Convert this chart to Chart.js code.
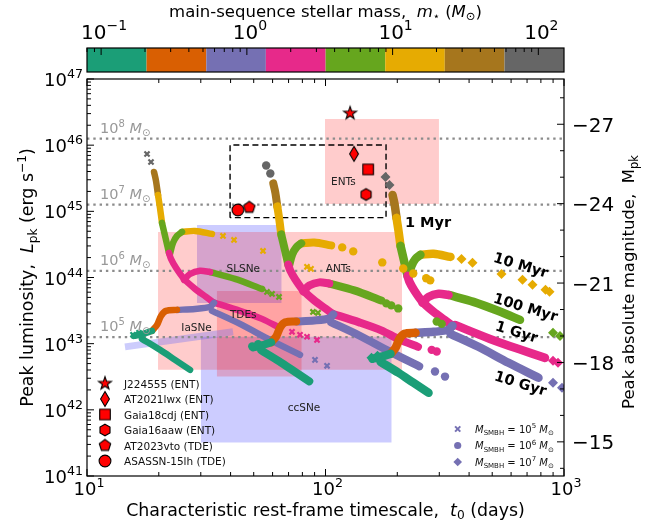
<!DOCTYPE html>
<html>
<head>
<meta charset="utf-8">
<title>TDE luminosity vs timescale</title>
<script src="https://cdn.jsdelivr.net/npm/chart.js@4.4.1/dist/chart.umd.min.js"></script>
<style>
html,body{margin:0;padding:0;background:#ffffff;overflow:hidden;}
#wrap{position:relative;width:659px;height:529px;}
canvas{display:block;}
</style>
</head>
<body>
<div id="wrap"><canvas id="chart" width="659" height="529"></canvas></div>
<script>
// ---------------- data ----------------
const MASS_COLORS = ['#1b9e77','#d95f02','#7570b3','#e7298a','#66a61e','#e6ab02','#a6761d','#666666'];
const MASS_BOUNDS = [0.08,0.205,0.527,1.35,3.47,8.9,22.8,58.6,150];
const CB_TICKS = [0.1,1,10,100];
const X_TICKS = [10,100,1000];
const Y_TICKS = [1e41,1e42,1e43,1e44,1e45,1e46,1e47];
const MAG_TICKS = [-27,-24,-21,-18,-15];

const EDD_EXP = [5,6,7,8];
const EDD_LUM = [1.26e43,1.26e44,1.26e45,1.26e46];
const EDD_LABEL_T = 11.34;

const EVENT_NAMES = ['J224555 (ENT)','AT2021lwx (ENT)','Gaia18cdj (ENT)','Gaia16aaw (ENT)','AT2023vto (TDE)','ASASSN-15lh (TDE)'];
const EVENT_T = [126.8,131.7,151,148,47.9,42.9];
const EVENT_L = [3.03e46,7.4e45,4.3e45,1.8e45,1.15e45,1.05e45];
const EVENT_MARKERS = ['star','thin_diamond','square','hexagon','pentagon','circle'];

const BOX_KIND = ['red','red','blue','red','blue'];
const BOX_T = [[99.5,299],[19.85,209.4],[28.9,65.5],[35.0,79.5],[29.97,189.5]];
const BOX_L = [[1.29e45,2.49e46],[4.02e42,4.89e44],[4.13e43,6.23e44],[3.18e42,6.27e43],[3.21e41,1.27e43]];
const DASH_T = [39.8,179.4];
const DASH_L = [8.03e44,1.007e46];
const IA_BAND = [[14.43,8.95e42],[40.95,1.51e43]];

const LABEL_NAMES = ['ENTs','SLSNe','ANTs','TDEs','IaSNe','ccSNe'];
const LABEL_T = [118.8,45.2,113.2,45.2,28.8,81.3];
const LABEL_L = [2.91e45,1.38e44,1.38e44,2.82e43,1.78e43,1.12e42];

const AGE_LABELS = ['1 Myr','10 Myr','100 Myr','1 Gyr','10 Gyr'];
const AGE_T = [269.1,660,691,633.5,658];
const AGE_L = [6.99e44,1.55e44,3.56e43,1.52e43,2.53e42];
const AGE_ROT = [0,17,17,17,17];

// tracks: [t0 (days), L_pk (erg/s), mass-bin index]
// M_SMBH = 1e5
const BH5_1MYR = [[15.74,1.31e43,0],[17.17,1.41e43,0],[18.73,1.56e43,0],
 [19.66,1.92e43,1],[20.43,2.63e43,1],[21.44,3.13e43,1],[23.84,3.24e43,1],
 [28.38,3.35e43,2],[32.80,3.60e43,2],[34.08,4.13e43,2],
 [31.55,5.09e43,3],[28.38,6.73e43,3],[25.51,9.52e43,3],[23.61,1.40e44,3],[22.50,1.91e44,3],[22.07,2.35e44,3],
 [21.44,3.70e44,4],[20.63,6.68e44,4],
 [20.23,1.13e45,5],[19.85,1.77e45,5],
 [19.47,2.88e45,6],[19.10,3.94e45,6]];
const BH5_10MYR = [[22.28,2.27e44,4],[22.94,3.33e44,4],[23.84,4.25e44,4],[25.02,4.89e44,4],[28.38,5.06e44,5],[33.43,4.56e44,5]];
const BH5_100MYR = [[25.51,9.20e43,3],[27.04,1.13e44,3],[29.77,1.26e44,3],[32.80,1.21e44,3],[41.74,9.52e43,4],[54.17,6.73e43,4]];
const BH5_1GYR = [[33.43,4.28e43,3],[43.79,3.13e43,3],[54.17,2.37e43,3],[64.45,1.73e43,3]];
const BH5_10GYR = [[33.43,3.13e43,2],[43.79,1.99e43,2],[58.52,1.14e43,2],[78.18,6.77e42,2]];
const BH5_LOW = [[17.01,1.18e43,0],[20.23,8.06e42,0],[23.39,5.69e42,0],[27.04,4.02e42,0]];
const BH5_DOTS = [[17.85,7.36e45,7],[18.55,5.57e45,7],
 [37.17,4.25e44,5],[41.34,3.70e44,5],[54.70,2.52e44,5],[83.63,1.45e44,5],[86.93,1.35e44,5],
 [56.85,6.06e43,4],[59.68,5.65e43,4],[63.83,5.09e43,4],[88.62,3.02e43,4],[93.02,2.92e43,4],
 [72.36,1.51e43,3],[78.18,1.36e43,3],[83.63,1.27e43,3],[92.12,1.14e43,3],
 [90.36,5.69e42,2],[101.5,4.62e42,2],
 [15.59,1.36e43,0],[16.52,1.46e43,0]];

// M_SMBH = 1e6
const BH6_1MYR = [[49.8,8.78e42,0],[54.3,9.45e42,0],[59.2,1.05e43,0],
 [62.2,1.29e43,1],[64.6,1.76e43,1],[67.8,2.10e43,1],[75.4,2.17e43,1],
 [89.7,2.24e43,2],[103.7,2.41e43,2],[107.8,2.77e43,2],
 [99.8,3.41e43,3],[89.7,4.51e43,3],[80.7,6.38e43,3],[74.7,9.38e43,3],[71.1,1.28e44,3],[69.8,1.57e44,3],
 [67.8,2.48e44,4],[65.2,4.48e44,4],
 [64.0,7.57e44,5],[62.8,1.19e45,5],
 [61.6,1.93e45,6],[60.4,2.64e45,6]];
const BH6_10MYR = [[70.4,1.52e44,4],[72.5,2.23e44,4],[75.4,2.85e44,4],[79.1,3.28e44,4],[89.7,3.39e44,5],[105.7,3.06e44,5]];
const BH6_100MYR = [[80.7,6.16e43,3],[85.5,7.57e43,3],[94.1,8.44e43,3],[103.7,8.11e43,3],[132.0,6.38e43,4],[171.3,4.51e43,4]];
const BH6_1GYR = [[105.7,2.87e43,3],[138.5,2.10e43,3],[171.3,1.59e43,3],[203.8,1.16e43,3],[244.3,8.95e42,3]];
const BH6_10GYR = [[105.7,2.10e43,2],[138.5,1.33e43,2],[185.0,7.64e42,2],[247.2,4.54e42,2]];
const BH6_LOW = [[53.8,7.91e42,0],[64.0,5.40e42,0],[74.0,3.81e42,0],[85.5,2.69e42,0]];
const BH6_DOTS = [[56.4,4.93e45,7],[58.7,3.73e45,7],
 [117.5,2.85e44,5],[130.7,2.48e44,5],[173.0,1.69e44,5],[211.8,1.37e44,5],[233.3,1.15e44,5],[264.4,9.72e43,5],[274.9,9.05e43,5],
 [179.8,4.06e43,4],[188.7,3.79e43,4],[201.8,3.41e43,4],[292.6,2.16e43,4],[307.0,1.99e43,4],
 [278.8,8.06e42,3],[292.6,7.60e42,3],
 [287.8,3.79e42,2],[317.0,3.18e42,2],
 [49.3,9.11e42,0],[52.2,9.78e42,0]];

// M_SMBH = 1e7
const BH7_1MYR = [[157.4,5.90e42,0],[171.7,6.35e42,0],[187.3,7.02e42,0],
 [196.6,8.64e42,1],[204.3,1.18e43,1],[214.4,1.41e43,1],[238.4,1.46e43,1],
 [283.8,1.51e43,2],[328.0,1.62e43,2],[340.8,1.86e43,2],
 [315.5,2.29e43,3],[283.8,3.03e43,3],[255.1,4.28e43,3],[236.1,6.30e43,3],[225.0,8.60e43,3],[220.7,1.06e44,3],
 [214.4,1.67e44,4],[206.3,3.01e44,4],
 [202.3,5.09e44,5],[198.5,7.97e44,5],
 [194.7,1.30e45,6],[191.0,1.77e45,6]];
const BH7_10MYR = [[222.8,1.02e44,4],[229.4,1.50e44,4],[238.4,1.91e44,4],[250.2,2.20e44,4],[283.8,2.28e44,5],[334.3,2.05e44,5]];
const BH7_100MYR = [[255.1,4.14e43,3],[270.4,5.09e43,3],[297.7,5.67e43,3],[328.0,5.45e43,3],[417.4,4.28e43,4],[541.7,3.03e43,4],[654,2.29e43,4]];
const BH7_1GYR = [[349.1,1.92e43,3],[489.5,1.18e43,3],[641.5,8.35e42,3],[832.4,6.10e42,3]];
const BH7_10GYR = [[334.3,1.41e43,2],[437.9,8.96e42,2],[585.2,5.13e42,2],[781.8,3.05e42,2]];
const BH7_LOW = [[170.1,5.31e42,0],[202.3,3.63e42,0],[233.9,2.56e42,0],[270.4,1.81e42,0]];
const BH7_DOTS = [[178.5,3.31e45,7],[185.5,2.51e45,7],
 [371.7,1.91e44,5],[413.4,1.67e44,5],[547.0,1.13e44,5],[669.9,9.23e43,5],[737.8,7.74e43,5],[836.3,6.53e43,5],[869.3,6.08e43,5],
 [899.5,1.46e43,4],[962,1.31e43,4],
 [899.5,5.5e42,3],[943.9,5.13e42,3],
 [899.5,2.56e42,2],[980.8,2.15e42,2],
 [155.9,6.12e42,0],[165.2,6.57e42,0]];

// ---------------- helpers ----------------
const FF = '"DejaVu Sans", "Liberation Sans", sans-serif';
function P(t, s, o) { return Object.assign({t: t, s: s}, o || {}); }
function fontOf(p) { return (p.it ? 'italic ' : '') + (p.b ? 'bold ' : '') + p.s + 'px ' + FF; }
function drawRich(ctx, parts, x, y, opt) {
  opt = opt || {};
  const align = opt.align || 'left', ang = opt.angle || 0, color = opt.color || '#000';
  ctx.save();
  ctx.translate(x, y);
  if (ang) ctx.rotate(ang);
  ctx.textBaseline = 'alphabetic';
  ctx.textAlign = 'left';
  let w = 0;
  const ws = parts.map(p => { ctx.font = fontOf(p); const m = ctx.measureText(p.t).width; w += m; return m; });
  let cx = align === 'center' ? -w / 2 : (align === 'right' ? -w : 0);
  parts.forEach((p, i) => {
    ctx.font = fontOf(p);
    ctx.fillStyle = p.color || color;
    ctx.fillText(p.t, cx, (p.dy || 0) + (opt.shift || 0));
    cx += ws[i];
  });
  ctx.restore();
}
function expStr(v) { return String(Math.round(Math.log10(v))).replace('-', '\u2212'); }

function makeMarker(kind) {
  const S = 18;
  const c = document.createElement('canvas');
  c.width = S; c.height = S;
  const g = c.getContext('2d');
  const cx = S / 2, cy = S / 2;
  g.beginPath();
  if (kind === 'star') {
    for (let i = 0; i < 10; i++) {
      const r = i % 2 ? 2.7 : 6.8;
      const a = -Math.PI / 2 + i * Math.PI / 5;
      g.lineTo(cx + r * Math.cos(a), cy + r * Math.sin(a));
    }
    g.closePath();
  } else if (kind === 'thin_diamond') {
    g.moveTo(cx, cy - 7.5); g.lineTo(cx + 4.4, cy); g.lineTo(cx, cy + 7.5); g.lineTo(cx - 4.4, cy); g.closePath();
  } else if (kind === 'square') {
    g.rect(cx - 5.3, cy - 5.3, 10.6, 10.6);
  } else if (kind === 'hexagon') {
    for (let i = 0; i < 6; i++) {
      const a = -Math.PI / 2 + i * Math.PI / 3;
      g.lineTo(cx + 5.8 * Math.cos(a), cy + 5.8 * Math.sin(a));
    }
    g.closePath();
  } else if (kind === 'pentagon') {
    for (let i = 0; i < 5; i++) {
      const a = -Math.PI / 2 + i * 2 * Math.PI / 5;
      g.lineTo(cx + 6.0 * Math.cos(a), cy + 6.0 * Math.sin(a));
    }
    g.closePath();
  } else {
    g.arc(cx, cy, 5.9, 0, Math.PI * 2);
  }
  g.fillStyle = '#ff0000';
  g.fill();
  g.lineWidth = 1.1;
  g.strokeStyle = '#000';
  g.stroke();
  return c;
}
const MARKER_IMGS = EVENT_MARKERS.map(makeMarker);

// ---------------- datasets ----------------
const datasets = [];
const RED = 'rgba(255,0,0,0.2)', BLUE = 'rgba(0,0,255,0.2)';

BOX_T.forEach((bt, i) => {
  datasets.push({
    type: 'line',
    data: [{x: bt[0], y: BOX_L[i][1]}, {x: bt[1], y: BOX_L[i][1]}],
    fill: {value: BOX_L[i][0]},
    backgroundColor: BOX_KIND[i] === 'red' ? RED : BLUE,
    borderWidth: 0, pointRadius: 0, order: 100
  });
});

datasets.push({
  type: 'line',
  data: IA_BAND.map(p => ({x: p[0], y: p[1]})),
  borderColor: 'rgba(110,110,245,0.35)', borderWidth: 7, pointRadius: 0, fill: false, order: 95
});

EDD_LUM.forEach(L => {
  datasets.push({
    type: 'line',
    data: [{x: 10, y: L}, {x: 1000, y: L}],
    borderColor: '#8c8c8c', borderWidth: 2.2, borderDash: [2.4, 3.9],
    pointRadius: 0, fill: false, order: 90
  });
});

datasets.push({
  type: 'line',
  data: [{x: DASH_T[0], y: DASH_L[0]}, {x: DASH_T[0], y: DASH_L[1]}, {x: DASH_T[1], y: DASH_L[1]}, {x: DASH_T[1], y: DASH_L[0]}, {x: DASH_T[0], y: DASH_L[0]}],
  borderColor: '#000', borderWidth: 1.4, borderDash: [6, 3.5], pointRadius: 0, fill: false, order: 85
});

function addBands(track, width, order) {
  const segs = [];
  let seg = null, prev = null, prevC = null;
  track.forEach(p => {
    const pt = {x: p[0], y: p[1]};
    if (p[2] !== prevC) {
      seg = {c: p[2], pts: prev ? [prev] : []};
      segs.push(seg);
      prevC = p[2];
    }
    seg.pts.push(pt);
    prev = pt;
  });
  segs.forEach(s => {
    datasets.push({
      type: 'line', data: s.pts,
      borderColor: MASS_COLORS[s.c], borderWidth: width,
      borderCapStyle: 'round', borderJoinStyle: 'round',
      tension: 0.3, pointRadius: 0, fill: false, order: order
    });
  });
}
function addDots(dots, style, radius, bw, order) {
  const cols = dots.map(d => MASS_COLORS[d[2]]);
  datasets.push({
    type: 'scatter',
    data: dots.map(d => ({x: d[0], y: d[1]})),
    pointStyle: style, pointRadius: radius, borderWidth: bw,
    borderColor: cols, backgroundColor: cols, order: order
  });
}

[[BH5_LOW, BH5_10GYR, BH5_1GYR, BH5_100MYR, BH5_10MYR, BH5_1MYR, 6.5],
 [BH6_LOW, BH6_10GYR, BH6_1GYR, BH6_100MYR, BH6_10MYR, BH6_1MYR, 8],
 [BH7_LOW, BH7_10GYR, BH7_1GYR, BH7_100MYR, BH7_10MYR, BH7_1MYR, 8.5]].forEach(fam => {
  const w = fam[6];
  for (let k = 0; k < 6; k++) addBands(fam[k], w, 60 - k);
});
addDots(BH5_DOTS, 'crossRot', 3.6, 2.2, 40);
addDots(BH6_DOTS, 'circle', 4.2, 0, 40);
addDots(BH7_DOTS, 'rectRot', 5, 0, 40);

EVENT_T.forEach((t, i) => {
  datasets.push({
    type: 'scatter',
    data: [{x: t, y: EVENT_L[i]}],
    pointStyle: MARKER_IMGS[i], pointRadius: 7, order: 0
  });
});

// ---------------- decoration plugin ----------------
const decor = {
  id: 'decor',
  beforeDraw(chart) {
    const ctx = chart.ctx;
    ctx.save(); ctx.fillStyle = '#ffffff'; ctx.fillRect(0, 0, chart.width, chart.height); ctx.restore();
  },
  afterDraw(chart) {
    const ctx = chart.ctx, ca = chart.chartArea;
    const sx = chart.scales.x, sy = chart.scales.y, cb = chart.scales.cb, mg = chart.scales.mag;
    function seg(x1, y1, x2, y2) { ctx.beginPath(); ctx.moveTo(x1, y1); ctx.lineTo(x2, y2); ctx.stroke(); }

    // region labels
    LABEL_NAMES.forEach((n, i) => {
      drawRich(ctx, [P(n, 10.5)], sx.getPixelForValue(LABEL_T[i]), sy.getPixelForValue(LABEL_L[i]), {align: 'center', shift: 4, color: '#222'});
    });
    // Eddington labels
    EDD_EXP.forEach((e, i) => {
      const x = sx.getPixelForValue(EDD_LABEL_T), y = sy.getPixelForValue(EDD_LUM[i]) - 6;
      drawRich(ctx, [P('10', 14.5), P(String(e), 10, {dy: -6}), P(' ', 14.5), P('M', 14.5, {it: 1}), P('\u2299', 10, {dy: 3})], x, y, {color: '#999999'});
    });
    // age labels
    AGE_LABELS.forEach((n, i) => {
      drawRich(ctx, [P(n, 14.5, {b: 1})], sx.getPixelForValue(AGE_T[i]), sy.getPixelForValue(AGE_L[i]), {align: 'center', angle: AGE_ROT[i] * Math.PI / 180, shift: 5});
    });

    // frame
    ctx.save();
    ctx.strokeStyle = '#000'; ctx.lineWidth = 1.2;
    ctx.strokeRect(ca.left, ca.top, ca.right - ca.left, ca.bottom - ca.top);
    ctx.lineWidth = 1;
    for (let d = 10; d <= 1000; d *= 10) {
      for (let m = 1; m <= 9; m++) {
        const v = m * d; if (v > 1000) break;
        const p = sx.getPixelForValue(v), len = m === 1 ? 7 : 4;
        seg(p, ca.bottom, p, ca.bottom - len);
        seg(p, ca.top, p, ca.top + len);
      }
    }
    for (let e = 41; e <= 47; e++) {
      for (let m = 1; m <= 9; m++) {
        const v = m * Math.pow(10, e); if (v > 1e47 * 1.0001) break;
        const p = sy.getPixelForValue(v), len = m === 1 ? 7 : 4;
        seg(ca.left, p, ca.left + len, p);
      }
    }
    for (let m = -28; m <= -14; m++) {
      const p = mg.getPixelForValue(m), len = (m % 3 === 0) ? 7 : 4;
      seg(ca.right, p, ca.right - len, p);
    }
    ctx.restore();

    // tick labels
    X_TICKS.forEach(v => {
      drawRich(ctx, [P('10', 18), P(expStr(v), 12.6, {dy: -8})], sx.getPixelForValue(v) + 2, ca.bottom + 19, {align: 'center'});
    });
    Y_TICKS.forEach(v => {
      drawRich(ctx, [P('10', 18), P(expStr(v), 12.6, {dy: -8})], ca.left - 4, sy.getPixelForValue(v) + 7, {align: 'right'});
    });
    MAG_TICKS.forEach(v => {
      drawRich(ctx, [P(String(v).replace('-', '\u2212'), 20)], ca.right + 8, mg.getPixelForValue(v) + 7.5, {align: 'left'});
    });

    // axis titles
    drawRich(ctx, [P('Characteristic rest-frame timescale,  ', 17.4), P('t', 17.4, {it: 1}), P('0', 12.2, {dy: 3}), P(' (days)', 17.4)],
      (ca.left + ca.right) / 2, 516, {align: 'center'});
    drawRich(ctx, [P('Peak luminosity,  ', 17.4), P('L', 17.4, {it: 1}), P('pk', 12.2, {dy: 3.5}), P(' (erg s', 17.4), P('\u22121', 12.2, {dy: -7}), P(')', 17.4)],
      33, (ca.top + ca.bottom) / 2, {align: 'center', angle: -Math.PI / 2});
    drawRich(ctx, [P('Peak absolute magnitude,  ', 16.5), P('M', 16.5), P('pk', 11.5, {dy: 3.5})],
      634, 282, {align: 'center', angle: -Math.PI / 2});

    // colorbar
    const cTop = 48, cBot = 72;
    ctx.save();
    for (let i = 0; i < MASS_COLORS.length; i++) {
      const x0 = cb.getPixelForValue(MASS_BOUNDS[i]), x1 = cb.getPixelForValue(MASS_BOUNDS[i + 1]);
      ctx.fillStyle = MASS_COLORS[i];
      ctx.fillRect(x0, cTop, x1 - x0, cBot - cTop);
    }
    ctx.strokeStyle = '#000'; ctx.lineWidth = 1;
    for (let d = 0.01; d <= 100; d *= 10) {
      for (let m = 1; m <= 9; m++) {
        const v = m * d;
        if (v < MASS_BOUNDS[0] || v > MASS_BOUNDS[MASS_BOUNDS.length - 1]) continue;
        const p = cb.getPixelForValue(v), len = m === 1 ? 7 : 4;
        seg(p, cTop, p, cTop + len);
      }
    }
    ctx.lineWidth = 1.2;
    const cl = cb.getPixelForValue(MASS_BOUNDS[0]), cr = cb.getPixelForValue(MASS_BOUNDS[MASS_BOUNDS.length - 1]);
    ctx.strokeRect(cl, cTop, cr - cl, cBot - cTop);
    ctx.restore();
    CB_TICKS.forEach(v => {
      drawRich(ctx, [P('10', 20), P(expStr(v), 14, {dy: -9})], cb.getPixelForValue(v) + 3, 38.5, {align: 'center'});
    });
    drawRich(ctx, [P('main-sequence stellar mass,  ', 16.5), P('m', 16.5, {it: 1}), P('\u22c6', 11.5, {dy: 3}), P(' (', 16.5), P('M', 16.5, {it: 1}), P('\u2299', 11.5, {dy: 3}), P(')', 16.5)],
      (ca.left + ca.right) / 2, 17, {align: 'center'});

    // event legend
    EVENT_NAMES.forEach((n, i) => {
      const y = 383.5 + i * 15.5;
      const img = MARKER_IMGS[i];
      ctx.drawImage(img, 105 - img.width / 2, y - img.height / 2);
      drawRich(ctx, [P(n, 10.5)], 124, y + 4, {color: '#111'});
    });

    // SMBH legend
    const lc = MASS_COLORS[2];
    const rows = [429, 445.5, 462];
    ctx.save();
    ctx.strokeStyle = lc; ctx.fillStyle = lc; ctx.lineWidth = 2;
    const y0 = rows[0];
    seg(457.7 - 2.6, y0 - 2.6, 457.7 + 2.6, y0 + 2.6); seg(457.7 - 2.6, y0 + 2.6, 457.7 + 2.6, y0 - 2.6);
    ctx.beginPath(); ctx.arc(457.7, rows[1], 3.6, 0, Math.PI * 2); ctx.fill();
    ctx.beginPath(); ctx.moveTo(457.7, rows[2] - 4.3); ctx.lineTo(457.7 + 4.3, rows[2]); ctx.lineTo(457.7, rows[2] + 4.3); ctx.lineTo(457.7 - 4.3, rows[2]); ctx.closePath(); ctx.fill();
    ctx.restore();
    ['5', '6', '7'].forEach((e, i) => {
      drawRich(ctx, [P('M', 10, {it: 1}), P('SMBH', 7, {dy: 2.5}), P(' = 10', 10), P(e, 7, {dy: -4.5}), P(' ', 10), P('M', 10, {it: 1}), P('\u2299', 7, {dy: 2.5})],
        475, rows[i] + 3.5, {color: '#111'});
    });
  }
};

const chart = new Chart(document.getElementById('chart'), {
  type: 'scatter',
  data: {datasets: datasets},
  options: {
    responsive: false,
    animation: false,
    events: [],
    devicePixelRatio: 1,
    layout: {padding: {left: 87, right: 95, top: 79, bottom: 53}},
    plugins: {legend: {display: false}, tooltip: {enabled: false}},
    scales: {
      x: {type: 'logarithmic', min: 10, max: 1000, display: false},
      y: {type: 'logarithmic', min: 1e41, max: 1e47, display: false},
      cb: {type: 'logarithmic', axis: 'x', position: 'top', min: MASS_BOUNDS[0], max: MASS_BOUNDS[MASS_BOUNDS.length - 1], display: false},
      mag: {type: 'linear', axis: 'y', position: 'right', reverse: true, min: -28.71, max: -13.71, display: false}
    }
  },
  plugins: [decor]
});
</script>
</body>
</html>
